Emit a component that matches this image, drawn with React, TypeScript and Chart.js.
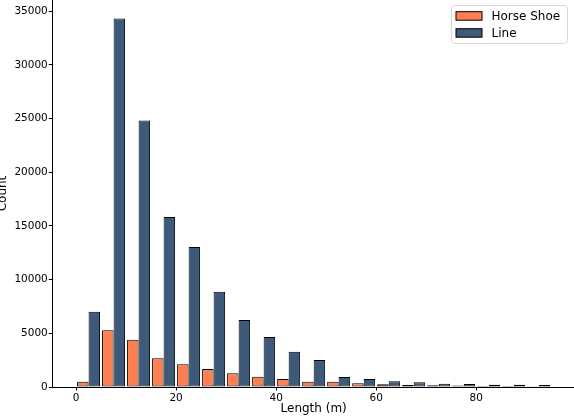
import React, { useEffect, useRef } from "react";
import { Chart, registerables } from "chart.js";

Chart.register(...registerables);

// Histogram bins (width 5 m)
const binCenters = [2.5, 7.5, 12.5, 17.5, 22.5, 27.5, 32.5, 37.5, 42.5, 47.5, 52.5, 57.5, 62.5, 67.5, 72.5, 77.5, 82.5, 87.5, 92.5];
const horseShoe = [490, 5280, 4400, 2670, 2110, 1680, 1290, 950, 745, 500, 480, 345, 250, 186, 155, 150, 90, 90, 30];
const lineCounts = [7010, 34330, 24830, 15830, 13030, 8875, 6240, 4655, 3290, 2515, 930, 745, 530, 435, 310, 280, 215, 215, 186];
const seriesLabels = ["Horse Shoe", "Line"];
const seriesColors = ["#FF7F50", "#3E5A7B"];
const xTicks = [0, 20, 40, 60, 80];
const yTicks = [0, 5000, 10000, 15000, 20000, 25000, 30000, 35000];

const FONT = "'DejaVu Sans', sans-serif";

const boxLegend = {
  id: "boxLegend",
  afterDraw(chart: any) {
    const ctx = chart.ctx as CanvasRenderingContext2D;
    const area = chart.chartArea;
    ctx.save();
    const x = area.right - 123.5;
    const y = area.top + 5.5;
    const w = 116;
    const h = 38;
    const r = 3;
    ctx.beginPath();
    ctx.moveTo(x + r, y);
    ctx.lineTo(x + w - r, y);
    ctx.arcTo(x + w, y, x + w, y + r, r);
    ctx.lineTo(x + w, y + h - r);
    ctx.arcTo(x + w, y + h, x + w - r, y + h, r);
    ctx.lineTo(x + r, y + h);
    ctx.arcTo(x, y + h, x, y + h - r, r);
    ctx.lineTo(x, y + r);
    ctx.arcTo(x, y, x + r, y, r);
    ctx.closePath();
    ctx.fillStyle = "rgba(255,255,255,0.8)";
    ctx.fill();
    ctx.strokeStyle = "#d6d6d6";
    ctx.lineWidth = 1;
    ctx.stroke();
    chart.data.datasets.forEach((ds: any, i: number) => {
      const py = y + 6.2 + i * 17;
      ctx.fillStyle = ds.backgroundColor;
      ctx.fillRect(x + 4.5, py, 26, 8.5);
      ctx.strokeStyle = "#000";
      ctx.lineWidth = 1;
      ctx.strokeRect(x + 4.5, py, 26, 8.5);
      ctx.fillStyle = "#000";
      ctx.font = `12px ${FONT}`;
      ctx.textBaseline = "alphabetic";
      ctx.textAlign = "left";
      ctx.fillText(ds.label, x + 40, py + 8.5);
    });
    ctx.restore();
  },
};

export default function App() {
  const canvasRef = useRef<HTMLCanvasElement | null>(null);

  useEffect(() => {
    if (!canvasRef.current) return;
    const makeData = (vals: number[]) => vals.map((v, i) => ({ x: binCenters[i], y: v }));
    const chart = new Chart(canvasRef.current, {
      type: "bar",
      data: {
        datasets: [
          {
            label: seriesLabels[0],
            data: makeData(horseShoe),
            backgroundColor: seriesColors[0],
            borderColor: "#000",
            borderWidth: 1,
            borderSkipped: false,
          },
          {
            label: seriesLabels[1],
            data: makeData(lineCounts),
            backgroundColor: seriesColors[1],
            borderColor: "#000",
            borderWidth: 1,
            borderSkipped: false,
          },
        ],
      },
      options: {
        animation: false,
        responsive: false,
        devicePixelRatio: 1,
        layout: { padding: { left: 0, top: 0, right: 1, bottom: 0 } },
        datasets: { bar: { categoryPercentage: 0.92, barPercentage: 1.0 } } as any,
        plugins: {
          legend: { display: false },
          tooltip: { enabled: false },
        },
        scales: {
          x: {
            type: "linear",
            min: -4.75,
            max: 99.75,
            offset: false,
            grid: {
              display: true,
              drawOnChartArea: false,
              drawTicks: true,
              tickLength: 3.5,
              color: "#000",
              offset: false,
            },
            border: { display: true, color: "#000", width: 1 },
            afterBuildTicks: (s: any) => {
              s.ticks = xTicks.map((v) => ({ value: v }));
            },
            ticks: {
              color: "#000",
              padding: 1,
              maxRotation: 0,
              autoSkip: false,
              font: { family: FONT, size: 10.5 },
              callback: (v: any) => String(v),
            },
            title: {
              display: true,
              text: "Length (m)",
              color: "#000",
              font: { family: FONT, size: 12, lineHeight: 1 },
              padding: { top: 0, bottom: 3 },
            },
            afterFit: (s: any) => {
              s.height = 31;
              s.paddingLeft = 0;
              s.paddingRight = 0;
            },
          } as any,
          y: {
            type: "linear",
            min: 0,
            max: 36050,
            grid: {
              display: true,
              drawOnChartArea: false,
              drawTicks: true,
              tickLength: 3.5,
              color: "#000",
            },
            border: { display: true, color: "#000", width: 1 },
            afterBuildTicks: (s: any) => {
              s.ticks = yTicks.map((v) => ({ value: v }));
            },
            ticks: {
              color: "#000",
              padding: 1,
              autoSkip: false,
              font: { family: FONT, size: 10.5 },
              callback: (v: any) => String(v),
            },
            title: {
              display: true,
              text: "Count",
              color: "#000",
              font: { family: FONT, size: 12, lineHeight: 1 },
              padding: { top: -3, bottom: 0 },
            },
            afterFit: (s: any) => {
              s.width = 52.3;
              s.paddingTop = 0;
              s.paddingBottom = 0;
            },
          } as any,
        },
      },
      plugins: [boxLegend],
    });
    return () => chart.destroy();
  }, []);

  return (
    <div
      style={{
        position: "fixed",
        left: 0,
        top: 0,
        width: 574,
        height: 418,
        overflow: "hidden",
        background: "#fff",
      }}
    >
      <canvas ref={canvasRef} width={576} height={418} style={{ width: 576, height: 418, display: "block" }} />
    </div>
  );
}
